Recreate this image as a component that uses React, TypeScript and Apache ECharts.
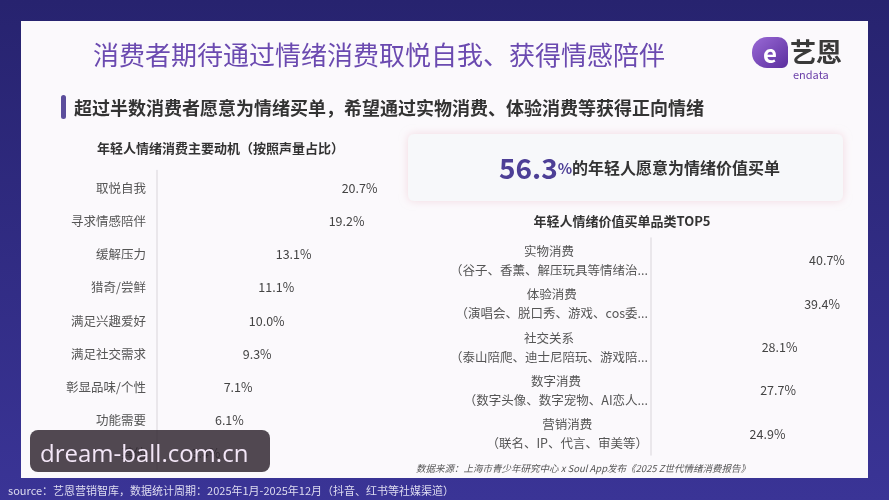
import React, { useEffect, useRef } from "react";
import * as echarts from "echarts";

const motiveNames = ["取悦自我", "寻求情感陪伴", "缓解压力", "猎奇/尝鲜", "满足兴趣爱好", "满足社交需求", "彰显品味/个性", "功能需要", "其他"];
const motiveValues = [20.7, 19.2, 13.1, 11.1, 10.0, 9.3, 7.1, 6.1, 3.4];

const topNames = ["实物消费", "体验消费", "社交关系", "数字消费", "营销消费"];
const topDescs = [
  "（谷子、香薰、解压玩具等情绪治...",
  "（演唱会、脱口秀、游戏、cos委...",
  "（泰山陪爬、迪士尼陪玩、游戏陪...",
  "（数字头像、数字宠物、AI恋人...",
  "（联名、IP、代言、审美等）",
];
const topValues = [40.7, 39.4, 28.1, 27.7, 24.9];

const FONT = '"Noto Sans CJK SC", "Noto Sans", sans-serif';

export default function App() {
  const ref = useRef<HTMLDivElement>(null);
  useEffect(() => {
    if (!ref.current) return;
    const chart = echarts.init(ref.current, null, { renderer: "svg" });
    const pct = (p: any) => `${Number(p.value).toFixed(1)}%`;
    const option: any = {
      animation: false,
      textStyle: { fontFamily: FONT },
      graphic: [
        {
          type: "rect",
          z: -10,
          shape: { x: 0, y: 0, width: 889, height: 500 },
          style: {
            fill: new echarts.graphic.LinearGradient(0, 0, 0, 1, [
              { offset: 0, color: "#27236f" },
              { offset: 1, color: "#3a3496" },
            ]),
          },
        },
        {
          type: "rect",
          z: -9,
          shape: { x: 21, y: 21, width: 847, height: 457 },
          style: { fill: "#fbf9fc" },
        },
        // title
        {
          type: "text",
          x: 93,
          y: 53,
          style: { text: "消费者期待通过情绪消费取悦自我、获得情感陪伴", font: `26px ${FONT}`, fill: "#6b4ab0", verticalAlign: "middle" },
        },
        // logo
        {
          type: "rect",
          x: 752,
          y: 37,
          shape: { x: 0, y: 0, width: 36, height: 31, r: [15, 10, 6, 15] },
          style: {
            fill: new echarts.graphic.LinearGradient(0, 0, 1, 1, [
              { offset: 0, color: "#9a6ad6" },
              { offset: 1, color: "#5b2e9e" },
            ]),
          },
        },
        {
          type: "text",
          x: 770,
          y: 52,
          style: { text: "e", font: `bold 24px ${FONT}`, fill: "#ffffff", align: "center", verticalAlign: "middle" },
        },
        {
          type: "text",
          x: 790,
          y: 50,
          style: { text: "艺恩", font: `bold 26px ${FONT}`, fill: "#3a3a3a", verticalAlign: "middle" },
        },
        {
          type: "text",
          x: 793,
          y: 74,
          style: { text: "endata", font: `11px ${FONT}`, fill: "#6a3fa8", verticalAlign: "middle" },
        },
        // subtitle
        {
          type: "rect",
          shape: { x: 61, y: 95, width: 5, height: 24, r: 2.5 },
          style: { fill: "#5b4d9c" },
        },
        {
          type: "text",
          x: 74,
          y: 107,
          style: {
            text: "超过半数消费者愿意为情绪买单，希望通过实物消费、体验消费等获得正向情绪",
            font: `bold 18px ${FONT}`,
            fill: "#333333",
            verticalAlign: "middle",
          },
        },
        {
          type: "text",
          x: 97,
          y: 147,
          style: { text: "年轻人情绪消费主要动机（按照声量占比）", font: `bold 13px ${FONT}`, fill: "#333333", verticalAlign: "middle" },
        },
        // 56.3 box
        {
          type: "rect",
          shape: { x: 408, y: 134, width: 435, height: 67, r: 6 },
          style: { fill: "#f7f8fa", shadowBlur: 8, shadowColor: "rgba(235,190,200,0.55)" },
        },
        {
          type: "text",
          x: 499,
          y: 167,
          style: {
            text: "{a|56.3}{b|%}{c|的年轻人愿意为情绪价值买单}",
            verticalAlign: "middle",
            rich: {
              a: { font: `bold 28px ${FONT}`, fill: "#4d3f96" },
              b: { font: `bold 15px ${FONT}`, fill: "#4d3f96" },
              c: { font: `bold 16px ${FONT}`, fill: "#333333" },
            },
          },
        },
        {
          type: "text",
          x: 622,
          y: 220,
          style: { text: "年轻人情绪价值买单品类TOP5", font: `bold 13px ${FONT}`, fill: "#333333", align: "center", verticalAlign: "middle" },
        },
        {
          type: "text",
          x: 416,
          y: 468,
          style: {
            text: "数据来源：上海市青少年研究中心 x Soul App发布《2025 Z世代情绪消费报告》",
            font: `italic 9.5px ${FONT}`,
            fill: "#555555",
            verticalAlign: "middle",
          },
        },
        {
          type: "text",
          x: 8,
          y: 490,
          style: {
            text: "source：艺恩营销智库，数据统计周期：2025年1月-2025年12月（抖音、红书等社媒渠道）",
            font: `11px ${FONT}`,
            fill: "#dedcf0",
            verticalAlign: "middle",
          },
        },
        // watermark
        {
          type: "rect",
          z: 100,
          shape: { x: 30, y: 430, width: 240, height: 42, r: 8 },
          style: { fill: "rgba(48,38,48,0.84)" },
        },
        {
          type: "text",
          z: 101,
          x: 40,
          y: 452,
          style: { text: "dream-ball.com.cn", font: `24px "Open Sans", sans-serif`, fill: "#f3e6f7", verticalAlign: "middle" },
        },
      ],
      grid: [
        { left: 157, top: 170.5, width: 217, height: 299 },
        { left: 651, top: 238, width: 188, height: 217 },
      ],
      xAxis: [
        { gridIndex: 0, type: "value", min: 0, max: 25, show: false },
        { gridIndex: 1, type: "value", min: 0, max: 50, show: false },
      ],
      yAxis: [
        {
          gridIndex: 0,
          type: "category",
          inverse: true,
          data: motiveNames,
          axisTick: { show: false },
          axisLine: { show: true, lineStyle: { color: "#e4e1e6", width: 1.5 } },
          axisLabel: { color: "#555555", fontSize: 12.5, margin: 11, fontFamily: FONT },
        },
        {
          gridIndex: 1,
          type: "category",
          inverse: true,
          data: topNames,
          axisTick: { show: false },
          axisLine: { show: true, lineStyle: { color: "#e4e1e6", width: 1.5 } },
          axisLabel: {
            margin: 3,
            align: "right",
            formatter: (value: string, index: number) => `{a|${value}}\n{a|${topDescs[index]}}`,
            rich: {
              a: { align: "center", color: "#555555", fontSize: 12.5, lineHeight: 19, fontFamily: FONT },
            },
          },
        },
      ],
      series: [
        {
          type: "bar",
          xAxisIndex: 0,
          yAxisIndex: 0,
          data: motiveValues,
          barWidth: 18,
          itemStyle: { color: "rgba(251,249,252,0)" },
          label: { show: true, position: "right", distance: 5, formatter: pct, color: "#444444", fontSize: 12.5, fontFamily: FONT },
        },
        {
          type: "bar",
          xAxisIndex: 1,
          yAxisIndex: 1,
          data: topValues,
          barWidth: 20,
          itemStyle: { color: "rgba(251,249,252,0)" },
          label: { show: true, position: "right", distance: 5, formatter: pct, color: "#444444", fontSize: 12.5, fontFamily: FONT },
        },
      ],
    };
    chart.setOption(option);
    return () => chart.dispose();
  }, []);
  return <div ref={ref} style={{ position: "fixed", left: 0, top: 0, width: 889, height: 500 }} />;
}
